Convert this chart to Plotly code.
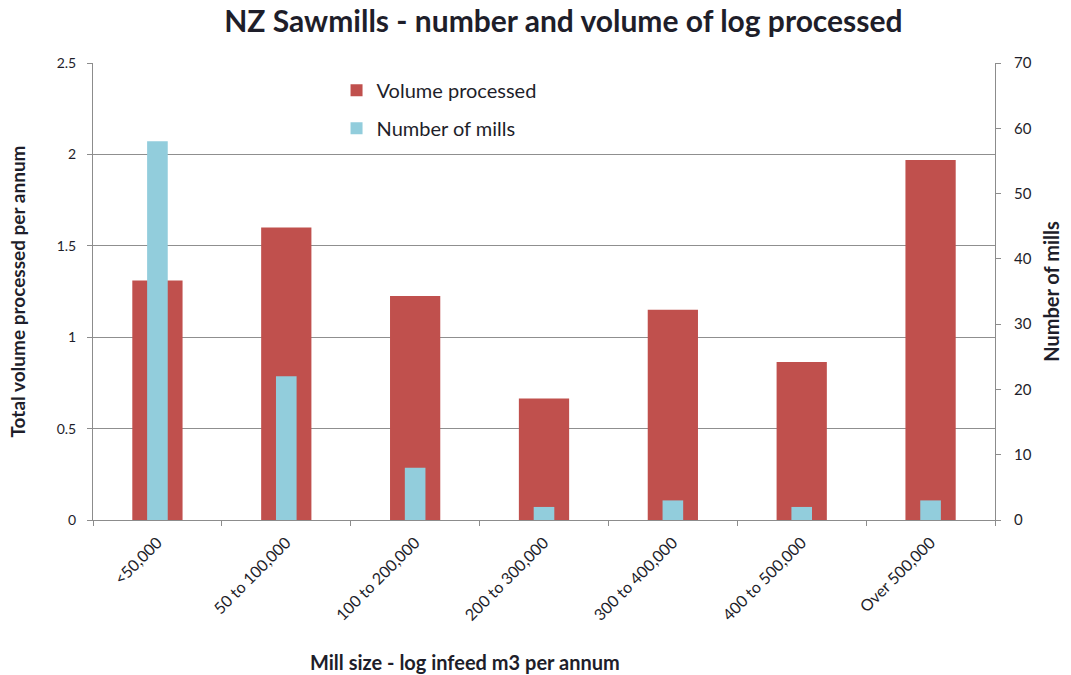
import plotly.graph_objects as go

# Mill size bands (log infeed, m3 per annum)
mill_sizes = ["<50,000", "50 to 100,000", "100 to 200,000", "200 to 300,000",
              "300 to 400,000", "400 to 500,000", "Over 500,000"]
# Total volume processed per annum (left axis)
volume_processed = [1.31, 1.60, 1.225, 0.665, 1.15, 0.865, 1.97]
# Number of mills in each band (right axis)
number_of_mills = [58, 22, 8, 2, 3, 2, 3]

FONT = "Lato"
TEXT = "#1e1e2a"
AXIS = "#8c8c8c"

fig = go.Figure()
fig.add_trace(go.Bar(
    x=mill_sizes, y=volume_processed, name="Volume processed",
    marker=dict(color="#c0504d", line=dict(width=0)), width=0.39,
    yaxis="y", legendgroup="a",
))
fig.add_trace(go.Bar(
    x=mill_sizes, y=number_of_mills, name="Number of mills",
    marker=dict(color="#92cddc", line=dict(width=0)), width=0.16,
    yaxis="y2", legendgroup="b",
))

fig.update_layout(
    width=1071, height=675,
    margin=dict(l=93, r=76, t=63, b=155),
    paper_bgcolor="white", plot_bgcolor="white",
    barmode="overlay",
    font=dict(family=FONT, color=TEXT),
    title=dict(text="<b>NZ Sawmills - number and volume of log processed</b>",
               x=0.526, xanchor="center", y=0.968, yanchor="middle",
               font=dict(size=30, color=TEXT)),
    xaxis=dict(
        type="category", tickangle=-45, tickson="boundaries",
        ticks="outside", ticklen=5, tickcolor=AXIS,
        showline=True, linecolor=AXIS, linewidth=1,
        showgrid=False, tickfont=dict(size=16, color=TEXT),
        ticklabelstandoff=6,
    ),
    yaxis=dict(
        range=[0, 2.5], tick0=0, dtick=0.5,
        ticks="outside", ticklen=5, tickcolor=AXIS,
        showline=True, linecolor=AXIS, linewidth=1,
        showgrid=True, gridcolor="#8f8f8f", gridwidth=1,
        zeroline=False, tickfont=dict(size=14, color=TEXT),
        ticklabelstandoff=8,
        title=dict(text="<b>Total volume processed per annum</b>",
                   font=dict(size=19, color=TEXT), standoff=26),
    ),
    yaxis2=dict(
        range=[0, 70], tick0=0, dtick=10, overlaying="y", side="right",
        ticks="outside", ticklen=5, tickcolor=AXIS,
        showline=True, linecolor=AXIS, linewidth=1,
        showgrid=False, zeroline=False, tickfont=dict(size=15, color=TEXT),
        ticklabelstandoff=10,
        title=dict(text="<b>Number of mills</b>",
                   font=dict(size=20, color=TEXT), standoff=14),
    ),
    legend=dict(
        x=0.27, y=0.983, xanchor="left", yanchor="top",
        bgcolor="rgba(0,0,0,0)", font=dict(size=20, color=TEXT),
        tracegroupgap=9, itemwidth=30,
    ),
    annotations=[dict(
        text="<b>Mill size - log infeed m3 per annum</b>",
        xref="paper", yref="paper", x=0.412, y=-0.31,
        xanchor="center", yanchor="middle", showarrow=False,
        font=dict(size=20, color=TEXT),
    )],
)

fig.write_html("out.html")
